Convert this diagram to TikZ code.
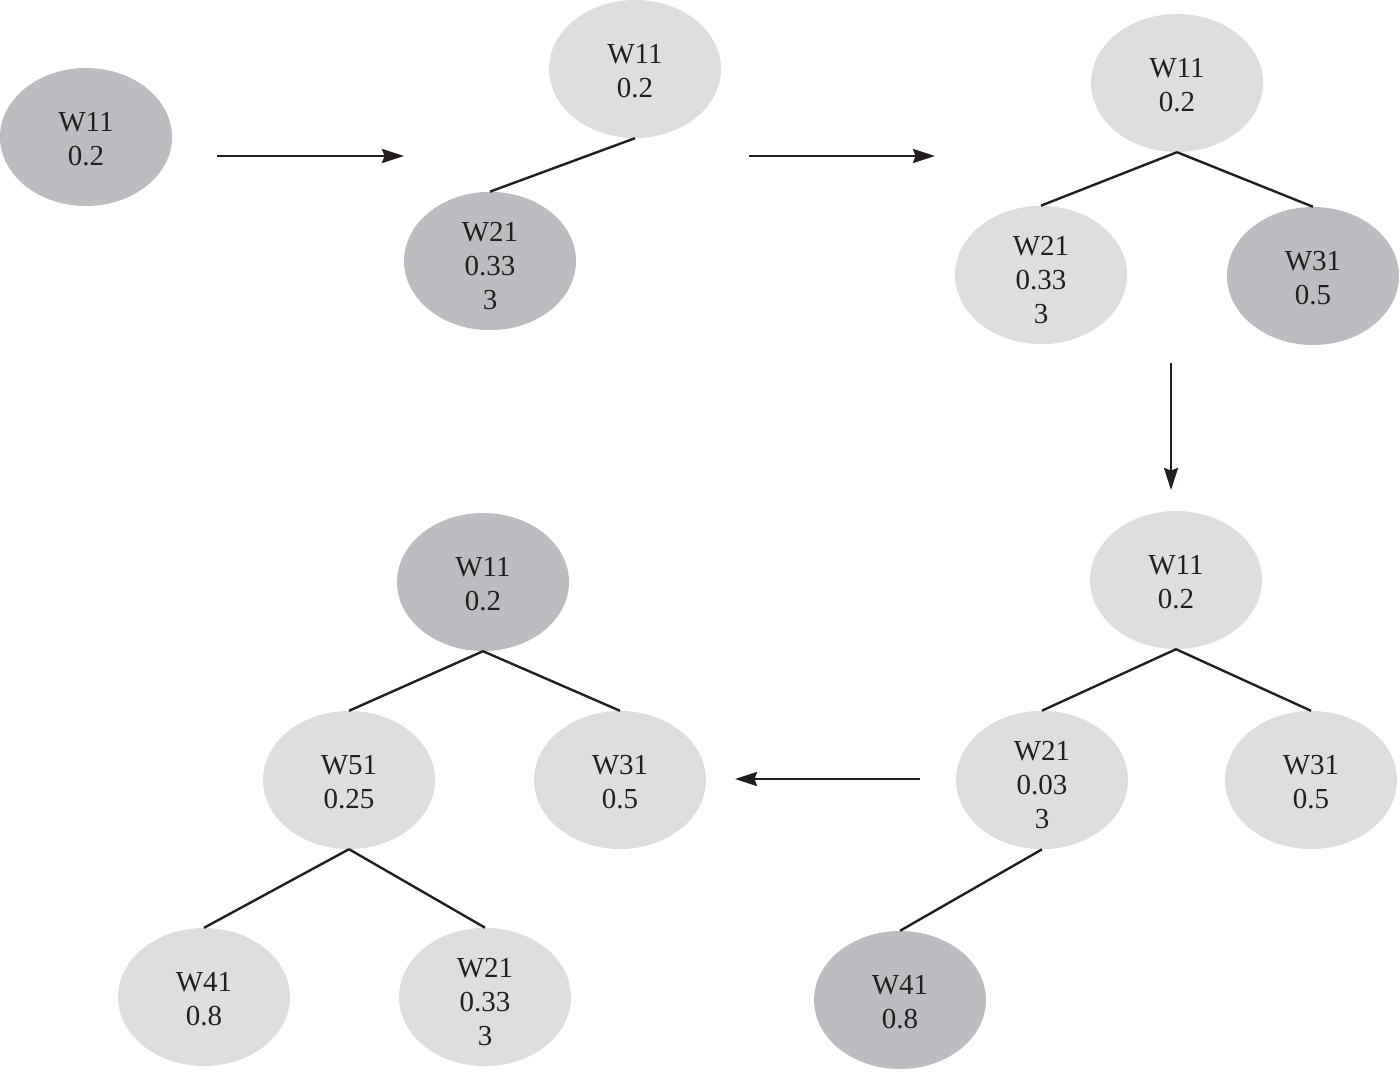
\documentclass[tikz,border=0pt]{standalone}
\usepackage{fontspec}
\setmainfont{Liberation Serif}
\usetikzlibrary{shapes.geometric,arrows.meta}
\definecolor{darknode}{RGB}{188,189,192}
\definecolor{lightnode}{RGB}{220,222,224}
\definecolor{inkc}{RGB}{35,31,32}
\newcommand\twostrut{\rule{0pt}{23pt}}
\newcommand\threestrut{\rule{0pt}{29.5pt}}
\tikzset{
  wnode/.style={ellipse, inner sep=0pt, minimum width=172pt, minimum height=138pt,
    align=center, text=inkc, font=\fontsize{29}{34}\selectfont},
  dk/.style={wnode, fill=darknode},
  lt/.style={wnode, fill=lightnode},
  edge/.style={draw=inkc, line width=2.4pt},
  flow/.style={draw=inkc, line width=2.4pt, -{Stealth[length=22pt,width=14pt,inset=2.5pt]}}
}
\begin{document}
\begin{tikzpicture}[x=1pt,y=-1pt]
\useasboundingbox (0,0) rectangle (1400,1092);
% stage 1
\node[dk] (a1) at (86,137) {\twostrut W11\\0.2};
% stage 2
\node[lt] (b1) at (635,69) {\twostrut W11\\0.2};
\node[dk] (b2) at (490,261) {\threestrut W21\\0.33\\3};
\draw[edge] (b1.south) -- (b2.north);
% stage 3
\node[lt] (c1) at (1177,83) {\twostrut W11\\0.2};
\node[lt] (c2) at (1041,275) {\threestrut W21\\0.33\\3};
\node[dk] (c3) at (1313,276) {\twostrut W31\\0.5};
\draw[edge] (c1.south) -- (c2.north);
\draw[edge] (c1.south) -- (c3.north);
% stage 4
\node[lt] (d1) at (1176,580) {\twostrut W11\\0.2};
\node[lt] (d2) at (1042,780) {\threestrut W21\\0.03\\3};
\node[lt] (d3) at (1311,780) {\twostrut W31\\0.5};
\node[dk] (d4) at (900,1000) {\twostrut W41\\0.8};
\draw[edge] (d1.south) -- (d2.north);
\draw[edge] (d1.south) -- (d3.north);
\draw[edge] (d2.south) -- (d4.north);
% stage 5
\node[dk] (e1) at (483,582) {\twostrut W11\\0.2};
\node[lt] (e2) at (349,780) {\twostrut W51\\0.25};
\node[lt] (e3) at (620,780) {\twostrut W31\\0.5};
\node[lt] (e4) at (204,997) {\twostrut W41\\0.8};
\node[lt] (e5) at (485,997) {\threestrut W21\\0.33\\3};
\draw[edge] (e1.south) -- (e2.north);
\draw[edge] (e1.south) -- (e3.north);
\draw[edge] (e2.south) -- (e4.north);
\draw[edge] (e2.south) -- (e5.north);
% flow arrows
\coordinate (f1s) at (217,156);
\coordinate (f1e) at (404,156);
\coordinate (f2s) at (749,156);
\coordinate (f2e) at (935,156);
\coordinate (f3s) at (1171,363);
\coordinate (f3e) at (1171,490);
\coordinate (f4s) at (920,779);
\coordinate (f4e) at (735,779);
\draw[flow] (f1s) -- (f1e);
\draw[flow] (f2s) -- (f2e);
\draw[flow] (f3s) -- (f3e);
\draw[flow] (f4s) -- (f4e);
\end{tikzpicture}
\end{document}
